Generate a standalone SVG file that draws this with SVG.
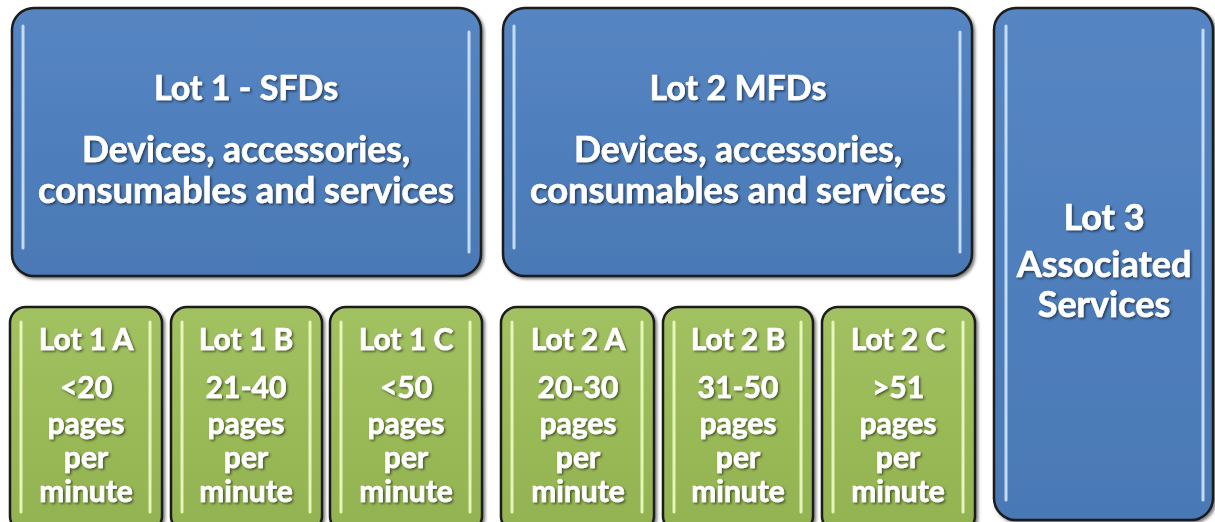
<svg xmlns="http://www.w3.org/2000/svg" width="1215" height="522" viewBox="0 0 1215 522">
<defs>
  <linearGradient id="gb" x1="0" y1="0" x2="0" y2="1">
    <stop offset="0" stop-color="#5585c2"/>
    <stop offset="0.5" stop-color="#4f7fbc"/>
    <stop offset="1" stop-color="#4a79b5"/>
  </linearGradient>
  <linearGradient id="gg" x1="0" y1="0" x2="0" y2="1">
    <stop offset="0" stop-color="#a2c161"/>
    <stop offset="0.5" stop-color="#9aba58"/>
    <stop offset="1" stop-color="#93b352"/>
  </linearGradient>
  <filter id="ts" x="-10%" y="-20%" width="120%" height="150%">
    <feDropShadow dx="1.5" dy="1.5" stdDeviation="1" flood-color="#000" flood-opacity="0.55"/>
  </filter>
  <filter id="bs" x="-5%" y="-5%" width="110%" height="110%">
    <feDropShadow dx="2" dy="2" stdDeviation="1.5" flood-color="#000" flood-opacity="0.5"/>
  </filter>
</defs>
<style>
  .blue{fill:url(#gb);stroke:#1c1c1c;stroke-width:2.5}
  .green{fill:url(#gg);stroke:#1c1c1c;stroke-width:2.5}
  .hlb{stroke:#d8ecff;stroke-width:3;stroke-linecap:round;opacity:0.85}
  .hlg{stroke:#f2ffcc;stroke-width:3;stroke-linecap:round;opacity:0.85}
  text{font-family:"Lato","Liberation Sans",sans-serif;font-weight:bold;fill:#ffffff;text-anchor:middle;filter:url(#ts);stroke:#ffffff;stroke-width:0.6}
  .tb{font-size:34px}
  .td{font-size:36px}
  .t3{font-size:36px}
  .tg{font-size:30px}
</style>
<g id="connectors"></g>
<g id="lot1">
  <rect class="blue" x="12" y="8" width="469" height="268" rx="22" filter="url(#bs)"/>
  <line class="hlb" x1="23" y1="26" x2="23" y2="248"/>
  <line class="hlb" x1="469" y1="32" x2="469" y2="252"/>
  <text class="tb" x="246" y="100">Lot 1 - SFDs</text>
  <text class="td" x="246" y="162" textLength="328" lengthAdjust="spacingAndGlyphs">Devices, accessories,</text>
  <text class="td" x="246" y="203" textLength="416" lengthAdjust="spacingAndGlyphs">consumables and services</text>
</g>
<g id="lot2">
  <rect class="blue" x="503" y="8" width="469" height="268" rx="22" filter="url(#bs)"/>
  <line class="hlb" x1="514" y1="26" x2="514" y2="248"/>
  <line class="hlb" x1="960" y1="32" x2="960" y2="252"/>
  <text class="tb" x="738" y="100">Lot 2 MFDs</text>
  <text class="td" x="738" y="162" textLength="328" lengthAdjust="spacingAndGlyphs">Devices, accessories,</text>
  <text class="td" x="738" y="203" textLength="416" lengthAdjust="spacingAndGlyphs">consumables and services</text>
</g>
<g id="lot3">
  <rect class="blue" x="994" y="8" width="219" height="512" rx="22" filter="url(#bs)"/>
  <line class="hlb" x1="1006" y1="26" x2="1006" y2="500"/>
  <line class="hlb" x1="1203" y1="30" x2="1203" y2="500"/>
  <text class="t3" x="1104" y="230">Lot 3</text>
  <text class="t3" x="1104" y="277">Associated</text>
  <text class="t3" x="1104" y="317">Services</text>
</g>
<g id="lot1a">
  <rect class="green" x="10" y="307" width="152" height="225" rx="16" filter="url(#bs)"/>
  <line class="hlg" x1="21" y1="322" x2="21" y2="512"/>
  <line class="hlg" x1="150" y1="322" x2="150" y2="512"/>
  <text class="tg" x="86" y="350">Lot 1 A</text>
  <text class="tg" x="86" y="398">&lt;20</text>
  <text class="tg" x="86" y="434">pages</text>
  <text class="tg" x="86" y="468">per</text>
  <text class="tg" x="86" y="502">minute</text>
</g>
<g id="lot1b">
  <rect class="green" x="171" y="307" width="151" height="225" rx="16" filter="url(#bs)"/>
  <line class="hlg" x1="182" y1="322" x2="182" y2="512"/>
  <line class="hlg" x1="310" y1="322" x2="310" y2="512"/>
  <text class="tg" x="246" y="350">Lot 1 B</text>
  <text class="tg" x="246" y="398">21-40</text>
  <text class="tg" x="246" y="434">pages</text>
  <text class="tg" x="246" y="468">per</text>
  <text class="tg" x="246" y="502">minute</text>
</g>
<g id="lot1c">
  <rect class="green" x="330" y="307" width="152" height="225" rx="16" filter="url(#bs)"/>
  <line class="hlg" x1="341" y1="322" x2="341" y2="512"/>
  <line class="hlg" x1="470" y1="322" x2="470" y2="512"/>
  <text class="tg" x="406" y="350">Lot 1 C</text>
  <text class="tg" x="406" y="398">&lt;50</text>
  <text class="tg" x="406" y="434">pages</text>
  <text class="tg" x="406" y="468">per</text>
  <text class="tg" x="406" y="502">minute</text>
</g>
<g id="lot2a">
  <rect class="green" x="501" y="307" width="153" height="225" rx="16" filter="url(#bs)"/>
  <line class="hlg" x1="512" y1="322" x2="512" y2="512"/>
  <line class="hlg" x1="642" y1="322" x2="642" y2="512"/>
  <text class="tg" x="578" y="350">Lot 2 A</text>
  <text class="tg" x="578" y="398">20-30</text>
  <text class="tg" x="578" y="434">pages</text>
  <text class="tg" x="578" y="468">per</text>
  <text class="tg" x="578" y="502">minute</text>
</g>
<g id="lot2b">
  <rect class="green" x="663" y="307" width="150" height="225" rx="16" filter="url(#bs)"/>
  <line class="hlg" x1="674" y1="322" x2="674" y2="512"/>
  <line class="hlg" x1="801" y1="322" x2="801" y2="512"/>
  <text class="tg" x="738" y="350">Lot 2 B</text>
  <text class="tg" x="738" y="398">31-50</text>
  <text class="tg" x="738" y="434">pages</text>
  <text class="tg" x="738" y="468">per</text>
  <text class="tg" x="738" y="502">minute</text>
</g>
<g id="lot2c">
  <rect class="green" x="822" y="307" width="153" height="225" rx="16" filter="url(#bs)"/>
  <line class="hlg" x1="833" y1="322" x2="833" y2="512"/>
  <line class="hlg" x1="963" y1="322" x2="963" y2="512"/>
  <text class="tg" x="898" y="350">Lot 2 C</text>
  <text class="tg" x="898" y="398">&gt;51</text>
  <text class="tg" x="898" y="434">pages</text>
  <text class="tg" x="898" y="468">per</text>
  <text class="tg" x="898" y="502">minute</text>
</g>
</svg>
